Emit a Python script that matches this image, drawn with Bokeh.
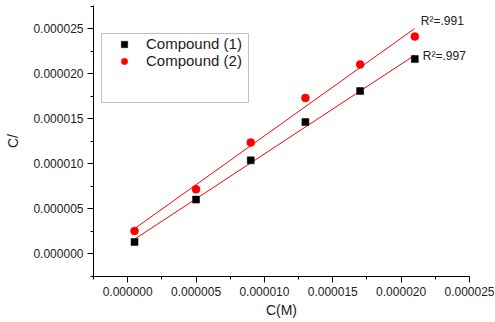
import numpy as np
from bokeh.plotting import figure
from bokeh.models import (ColumnDataSource, FixedTicker, PrintfTickFormatter, Legend,
                          LegendItem, Label, BoxAnnotation, Range1d)
from bokeh.embed import file_html
from bokeh.resources import INLINE

# Concentration C (M) and measured C/θ for the two compounds
conc = [0.5e-6, 5e-6, 9e-6, 13e-6, 17e-6, 21e-6]
compound1 = [1.33e-6, 6.04e-6, 10.40e-6, 14.65e-6, 18.10e-6, 21.65e-6]
compound2 = [2.56e-6, 7.18e-6, 12.38e-6, 17.33e-6, 21.05e-6, 24.15e-6]
r2_labels = ["R\u00b2=.997", "R\u00b2=.991"]

major_ticks = [0, 5e-6, 10e-6, 15e-6, 20e-6, 25e-6]
minor_ticks = [-2.5e-6, 2.5e-6, 7.5e-6, 12.5e-6, 17.5e-6, 22.5e-6, 27.5e-6]

FONT = "Liberation Sans"

p = figure(width=495, height=322, output_backend="svg", toolbar_location=None,
           x_range=Range1d(-2.5e-6, 25e-6), y_range=Range1d(-2.5e-6, 27.6e-6),
           min_border_left=93, min_border_right=26, min_border_top=5, min_border_bottom=46)
p.outline_line_color = None
p.grid.visible = False
p.background_fill_color = "white"
p.border_fill_color = "white"

for ax in (p.xaxis[0], p.yaxis[0]):
    ax.ticker = FixedTicker(ticks=major_ticks, minor_ticks=minor_ticks)
    ax.formatter = PrintfTickFormatter(format="%.6f")
    ax.axis_line_color = "black"
    ax.major_tick_line_color = "black"
    ax.minor_tick_line_color = "black"
    ax.major_tick_in = 0
    ax.major_tick_out = 6
    ax.minor_tick_in = 0
    ax.minor_tick_out = 3
    ax.major_label_text_font = FONT
    ax.major_label_text_font_size = "12px"
    ax.major_label_text_color = "#222222"
    ax.major_label_standoff = 4
    ax.axis_label_text_font = FONT
    ax.axis_label_text_font_size = "14px"
    ax.axis_label_text_font_style = "normal"
    ax.axis_label_text_color = "#222222"

p.xaxis.axis_label = "C(M)"
p.yaxis.axis_label = "C/"
p.xaxis.axis_label_standoff = 3
p.yaxis.axis_label_standoff = 9

# linear fits drawn across the measured concentration span
x = np.array(conc)
xs_fit = np.array([x.min(), x.max()])
fits = []
for ys in (compound1, compound2):
    k, b = np.polyfit(x, np.array(ys), 1)
    fits.append(k * xs_fit + b)

p.line(xs_fit, fits[0], line_color="#ff0000", line_width=1)
p.line(xs_fit, fits[1], line_color="#ff0000", line_width=1)

src = ColumnDataSource(dict(x=conc, c1=compound1, c2=compound2))
r1 = p.scatter("x", "c1", source=src, marker="square", size=7,
               fill_color="black", line_color="black", line_width=0.5)
r2 = p.scatter("x", "c2", source=src, marker="circle", size=8,
               fill_color="#ff0000", line_color="#ff0000", line_width=0.5)

# legend frame is taller than its two rows
p.add_layout(BoxAnnotation(left=101, right=248, top=33, bottom=102,
                           left_units="canvas", right_units="canvas",
                           top_units="canvas", bottom_units="canvas",
                           fill_alpha=0, line_color="#333333", line_width=1))

legend = Legend(items=[LegendItem(label="Compound (1)", renderers=[r1]),
                       LegendItem(label="Compound (2)", renderers=[r2])],
                location=(21, 207), padding=0, spacing=0, margin=0,
                glyph_width=20, glyph_height=16, label_height=16,
                label_standoff=12, border_line_alpha=0,
                background_fill_alpha=0,
                label_text_font=FONT, label_text_font_size="15px",
                label_text_color="#222222")
p.add_layout(legend)

# R² annotations next to the last point of each series
p.add_layout(Label(x=conc[-1], y=compound1[-1], text=r2_labels[0], x_offset=8, y_offset=3,
                   text_font=FONT, text_font_size="12px", text_color="#222222",
                   text_baseline="middle"))
p.add_layout(Label(x=conc[-1], y=compound2[-1], text=r2_labels[1], x_offset=6, y_offset=16,
                   text_font=FONT, text_font_size="12px", text_color="#222222",
                   text_baseline="middle"))

open("out.html", "w").write(file_html(p, INLINE))
